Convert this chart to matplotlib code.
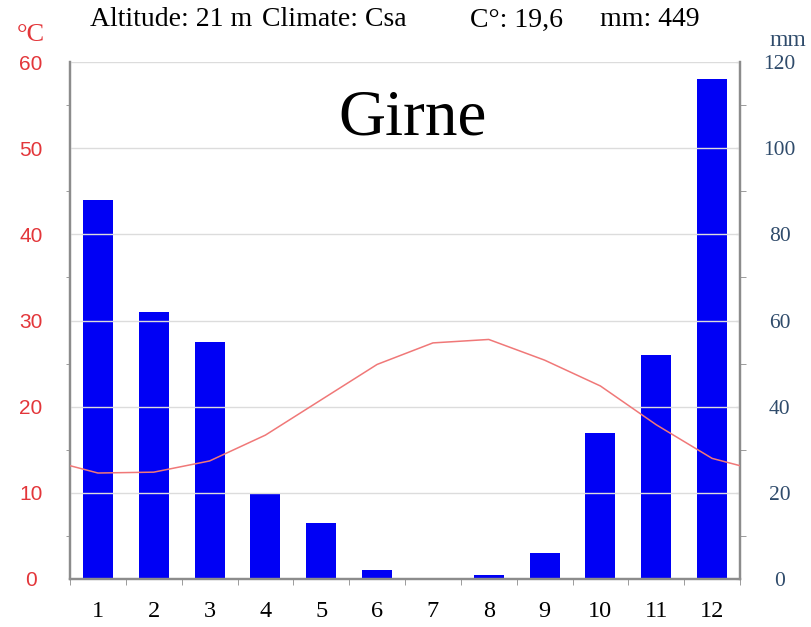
import numpy as np
import matplotlib.pyplot as plt
from matplotlib.ticker import MultipleLocator, FixedLocator

# klimadiagram Girne
months = np.arange(1, 13)
month_labels = [str(m) for m in months]
precip_mm = [88, 62, 55, 20, 13, 2, 0, 1, 6, 34, 52, 116]
temp_c = [12.3, 12.4, 13.7, 16.7, 20.8, 24.9, 27.4, 27.8, 25.4, 22.4, 17.9, 14.0]
header = ["Altitude: 21 m", "Climate: Csa", "C\u00b0: 19,6", "mm: 449"]
station = "Girne"

red = '#e3363a'
blue_txt = '#2f4b6b'
grey = '#8c8c8c'

fig = plt.figure(figsize=(8.11, 6.27), dpi=100)
W, H = 811, 627
ax = fig.add_axes([70 / W, 1 - 579 / H, 670 / W, 517 / H])
ax2 = ax.twinx()

# temperatuur, met Dec/Jan doorgetrokken naar de randen
tx = np.concatenate([[0], months, [13]])
ty = np.concatenate([[temp_c[-1]], temp_c, [temp_c[0]]])
ax.plot(tx, ty, color='#f07878', lw=1.1, zorder=3)

ax2.bar(months, precip_mm, width=0.54, color='#0000f5', zorder=2)
ax.set_zorder(ax2.get_zorder() + 1)
ax.patch.set_visible(False)

ax.set_xlim(0.5, 12.5)
ax.set_ylim(0, 60)
ax2.set_ylim(0, 120)

ax.yaxis.set_major_locator(MultipleLocator(10))
ax.yaxis.set_minor_locator(MultipleLocator(5))
ax2.yaxis.set_major_locator(MultipleLocator(20))
ax2.yaxis.set_minor_locator(MultipleLocator(10))
ax.grid(axis='y', color='#dcdcdc', lw=1)
ax.set_axisbelow(True)

ax.set_xticks(months)
ax.set_xticklabels(month_labels, family='Liberation Serif', fontsize=17.5)
ax.xaxis.set_minor_locator(FixedLocator(np.arange(0.5, 13, 1)))
ax.tick_params(axis='x', which='major', length=0, pad=16)
ax.tick_params(axis='x', which='minor', length=4, color=grey, direction='out')

ax.tick_params(axis='y', which='major', length=0, pad=28, labelcolor=red)
ax.tick_params(axis='y', which='minor', length=3, color=grey)
for t in ax.get_yticklabels():
    t.set_family('Liberation Sans')
    t.set_fontsize(15)
    t.set_ha('center')

ax2.tick_params(axis='y', which='major', length=3, direction='in', color=grey,
                pad=28.5, labelcolor=blue_txt)
ax2.tick_params(axis='y', which='minor', length=4, color=grey)
for t in ax2.get_yticklabels():
    t.set_family('Liberation Serif')
    t.set_fontsize(15.5)
    t.set_ha('center')

for a in (ax, ax2):
    a.spines['top'].set_visible(False)
    for s in ('left', 'right', 'bottom'):
        a.spines[s].set_color(grey)
        a.spines[s].set_linewidth(1.6)

ax.text(6.63, 53.4, station, family='Liberation Serif', fontsize=47,
        ha='center', va='center')

hx = [90, 262, 470, 600]
for s, x in zip(header, hx):
    fig.text(x / W, 1 - 20 / H, s, family='Liberation Serif', fontsize=20,
             ha='left', va='center')
fig.text(31 / W, 1 - 35 / H, '\u00b0C', color=red, family='Liberation Serif',
         fontsize=19, ha='center', va='center')
fig.text(769 / W, 1 - 40 / H, 'mm', color=blue_txt, family='Liberation Serif',
         fontsize=17, ha='left', va='center')

fig.savefig('out.png', dpi=100)
